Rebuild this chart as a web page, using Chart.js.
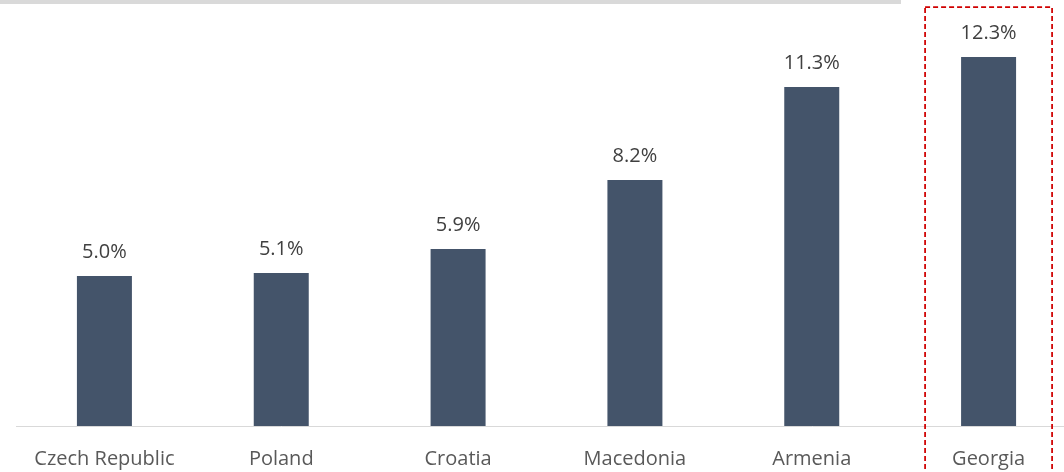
<!DOCTYPE html>
<html lang="en">
<head>
    <meta charset="UTF-8">
    <title>Country Rates</title>
    <script src="https://cdn.jsdelivr.net/npm/chart.js"></script>
    <style>
        html, body { margin: 0; padding: 0; overflow: hidden; background: #fff; }
        #wrap { width: 1080px; height: 472px; position: relative; }
    </style>
</head>
<body>
    <div id="wrap"><canvas id="rateChart"></canvas></div>
    <script>
        const countries = ['Czech Republic', 'Poland', 'Croatia', 'Macedonia', 'Armenia', 'Georgia'];
        const rates = [5.0, 5.1, 5.9, 8.2, 11.3, 12.3];
        const highlightIndex = 5;

        // value labels above each bar
        const valueLabels = {
            id: 'valueLabels',
            afterDatasetsDraw(chart) {
                const ctx = chart.ctx;
                const meta = chart.getDatasetMeta(0);
                ctx.save();
                ctx.font = '20px "Open Sans"';
                ctx.fillStyle = '#404040';
                ctx.textAlign = 'center';
                ctx.textBaseline = 'alphabetic';
                meta.data.forEach((bar, i) => {
                    ctx.fillText(rates[i].toFixed(1) + '%', bar.x, bar.y - 18);
                });
                ctx.restore();
            }
        };

        // grey strip at the top and the dashed box round the highlighted country
        const decorations = {
            id: 'decorations',
            beforeDraw(chart) {
                const ctx = chart.ctx;
                ctx.save();
                ctx.fillStyle = '#d9d9d9';
                ctx.fillRect(0, 0, 901, 4);
                ctx.restore();
            },
            afterDraw(chart) {
                const ctx = chart.ctx;
                const x = chart.scales.x;
                const cx = x.getPixelForValue(highlightIndex);
                ctx.save();
                ctx.strokeStyle = '#d00000';
                ctx.lineWidth = 1.75;
                ctx.setLineDash([5, 3]);
                ctx.strokeRect(cx - 63.5, 7, 127, 480);
                ctx.restore();
            }
        };

        new Chart(document.getElementById('rateChart'), {
            type: 'bar',
            data: {
                labels: countries,
                datasets: [{
                    data: rates,
                    backgroundColor: '#44546a',
                    barPercentage: 0.311,
                    categoryPercentage: 1
                }]
            },
            options: {
                responsive: true,
                maintainAspectRatio: false,
                animation: false,
                layout: { padding: { left: 16, right: 3, top: 6, bottom: 0 } },
                plugins: { legend: { display: false }, tooltip: { enabled: false } },
                scales: {
                    y: {
                        display: false,
                        min: 0,
                        max: 14
                    },
                    x: {
                        afterFit: s => { s.height = 46; },
                        grid: { display: false, drawTicks: false },
                        border: { color: '#d9d9d9', width: 1 },
                        ticks: {
                            color: '#595959',
                            font: { family: 'Open Sans', size: 20 },
                            padding: 21
                        }
                    }
                }
            },
            plugins: [valueLabels, decorations]
        });
    </script>
</body>
</html>
